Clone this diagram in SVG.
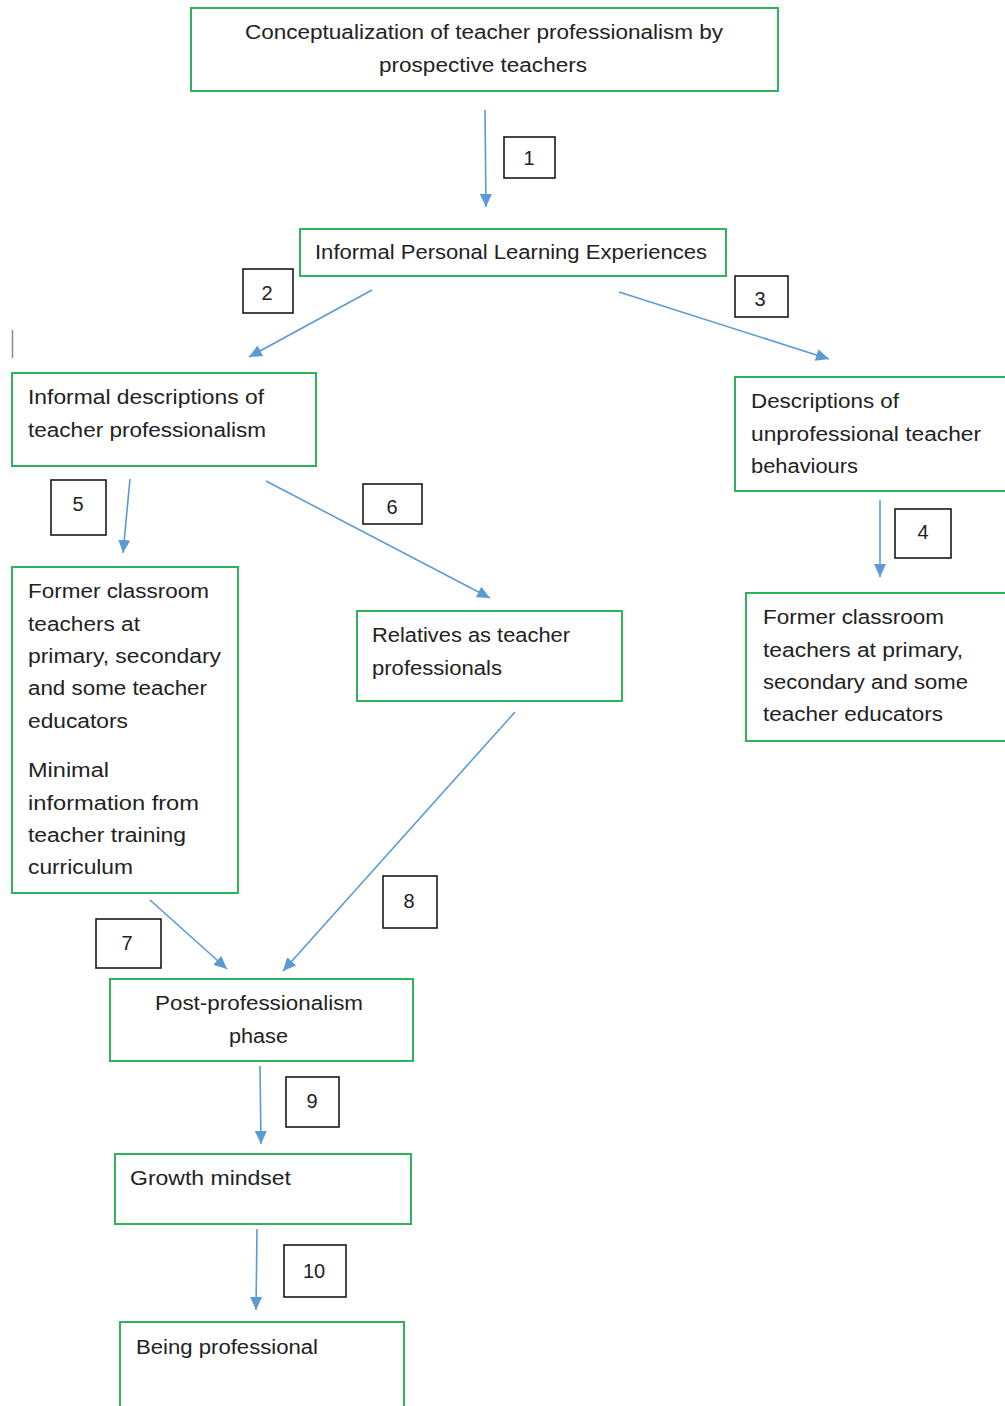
<svg xmlns="http://www.w3.org/2000/svg" width="1005" height="1406" viewBox="0 0 1005 1406">
<style>
.box{fill:#fff;stroke:#2fb35a;stroke-width:2}
.lbl{fill:#fff;stroke:#1a1a1a;stroke-width:1.6}
.t{font-family:"Liberation Sans",Arial,sans-serif;font-size:20px;fill:#222}
.c{text-anchor:middle}
.edge{stroke:#5b9bd5;stroke-width:1.6;fill:none;marker-end:url(#ah)}
</style>
<defs>
<marker id="ah" markerUnits="userSpaceOnUse" markerWidth="14" markerHeight="12" refX="13" refY="6" orient="auto">
<path d="M0,0 L13,6 L0,12 Z" fill="#5b9bd5"/>
</marker>
</defs>
<rect width="1005" height="1406" fill="#fff"/>
<line x1="12.5" y1="330" x2="12.5" y2="358" stroke="#888" stroke-width="1.5"/>
<g id="connectors">
<line class="edge" x1="485" y1="110" x2="486" y2="207"/>
<line class="edge" x1="372" y1="290" x2="249" y2="357"/>
<line class="edge" x1="619" y1="292" x2="829" y2="359"/>
<line class="edge" x1="880" y1="500" x2="880" y2="577"/>
<line class="edge" x1="130" y1="479" x2="123" y2="553"/>
<line class="edge" x1="266" y1="481" x2="490" y2="598"/>
<line class="edge" x1="150" y1="900" x2="227" y2="969"/>
<line class="edge" x1="515" y1="712" x2="283" y2="971"/>
<line class="edge" x1="260" y1="1066" x2="261" y2="1144"/>
<line class="edge" x1="257" y1="1229" x2="256" y2="1310"/>
</g>
<g id="label1"><rect class="lbl" x="504" y="137" width="51" height="41"/><text class="t c" x="529" y="165">1</text></g>
<g id="label2"><rect class="lbl" x="243" y="269" width="50" height="44"/><text class="t c" x="267" y="300">2</text></g>
<g id="label3"><rect class="lbl" x="735" y="276" width="53" height="41"/><text class="t c" x="760" y="306">3</text></g>
<g id="label4"><rect class="lbl" x="895" y="509" width="56" height="49"/><text class="t c" x="923" y="539">4</text></g>
<g id="label5"><rect class="lbl" x="51" y="480" width="55" height="55"/><text class="t c" x="78" y="511">5</text></g>
<g id="label6"><rect class="lbl" x="363" y="484" width="59" height="40"/><text class="t c" x="392" y="514">6</text></g>
<g id="label7"><rect class="lbl" x="96" y="919" width="65" height="49"/><text class="t c" x="127" y="950">7</text></g>
<g id="label8"><rect class="lbl" x="383" y="876" width="54" height="52"/><text class="t c" x="409" y="908">8</text></g>
<g id="label9"><rect class="lbl" x="286" y="1077" width="53" height="50"/><text class="t c" x="312" y="1108">9</text></g>
<g id="label10"><rect class="lbl" x="284" y="1245" width="62" height="52"/><text class="t c" x="314" y="1278">10</text></g>

<g id="node-concept">
<rect class="box" x="191" y="8" width="587" height="83"/>
<text class="t" x="245" y="39" textLength="478" lengthAdjust="spacingAndGlyphs">Conceptualization of teacher professionalism by</text>
<text class="t" x="379" y="72" textLength="208" lengthAdjust="spacingAndGlyphs">prospective teachers</text>
</g>
<g id="node-informal-exp">
<rect class="box" x="300" y="229" width="426" height="47"/>
<text class="t" x="315" y="259" textLength="392" lengthAdjust="spacingAndGlyphs">Informal Personal Learning Experiences</text>
</g>
<g id="node-informal-desc">
<rect class="box" x="12" y="373" width="304" height="93"/>
<text class="t" x="28" y="404" textLength="236" lengthAdjust="spacingAndGlyphs">Informal descriptions of</text>
<text class="t" x="28" y="437" textLength="238" lengthAdjust="spacingAndGlyphs">teacher professionalism</text>
</g>
<g id="node-unprof">
<rect class="box" x="735" y="377" width="280" height="114"/>
<text class="t" x="751" y="408" textLength="148" lengthAdjust="spacingAndGlyphs">Descriptions of</text>
<text class="t" x="751" y="441" textLength="230" lengthAdjust="spacingAndGlyphs">unprofessional teacher</text>
<text class="t" x="751" y="473" textLength="107" lengthAdjust="spacingAndGlyphs">behaviours</text>
</g>
<g id="node-former-left">
<rect class="box" x="12" y="567" width="226" height="326"/>
<text class="t" x="28" y="598" textLength="181" lengthAdjust="spacingAndGlyphs">Former classroom</text>
<text class="t" x="28" y="631" textLength="112" lengthAdjust="spacingAndGlyphs">teachers at</text>
<text class="t" x="28" y="663" textLength="193" lengthAdjust="spacingAndGlyphs">primary, secondary</text>
<text class="t" x="28" y="695" textLength="179" lengthAdjust="spacingAndGlyphs">and some teacher</text>
<text class="t" x="28" y="728" textLength="100" lengthAdjust="spacingAndGlyphs">educators</text>
<text class="t" x="28" y="777" textLength="81" lengthAdjust="spacingAndGlyphs">Minimal</text>
<text class="t" x="28" y="810" textLength="171" lengthAdjust="spacingAndGlyphs">information from</text>
<text class="t" x="28" y="842" textLength="158" lengthAdjust="spacingAndGlyphs">teacher training</text>
<text class="t" x="28" y="874" textLength="105" lengthAdjust="spacingAndGlyphs">curriculum</text>
</g>
<g id="node-relatives">
<rect class="box" x="357" y="611" width="265" height="90"/>
<text class="t" x="372" y="642" textLength="198" lengthAdjust="spacingAndGlyphs">Relatives as teacher</text>
<text class="t" x="372" y="675" textLength="130" lengthAdjust="spacingAndGlyphs">professionals</text>
</g>
<g id="node-former-right">
<rect class="box" x="746" y="593" width="270" height="148"/>
<text class="t" x="763" y="624" textLength="181" lengthAdjust="spacingAndGlyphs">Former classroom</text>
<text class="t" x="763" y="657" textLength="200" lengthAdjust="spacingAndGlyphs">teachers at primary,</text>
<text class="t" x="763" y="689" textLength="205" lengthAdjust="spacingAndGlyphs">secondary and some</text>
<text class="t" x="763" y="721" textLength="180" lengthAdjust="spacingAndGlyphs">teacher educators</text>
</g>
<g id="node-post">
<rect class="box" x="110" y="979" width="303" height="82"/>
<text class="t" x="155" y="1010" textLength="208" lengthAdjust="spacingAndGlyphs">Post-professionalism</text>
<text class="t" x="229" y="1043" textLength="59" lengthAdjust="spacingAndGlyphs">phase</text>
</g>
<g id="node-growth">
<rect class="box" x="115" y="1154" width="296" height="70"/>
<text class="t" x="130" y="1185" textLength="161" lengthAdjust="spacingAndGlyphs">Growth mindset</text>
</g>
<g id="node-being">
<rect class="box" x="120" y="1322" width="284" height="100"/>
<text class="t" x="136" y="1354" textLength="182" lengthAdjust="spacingAndGlyphs">Being professional</text>
</g>
</svg>
